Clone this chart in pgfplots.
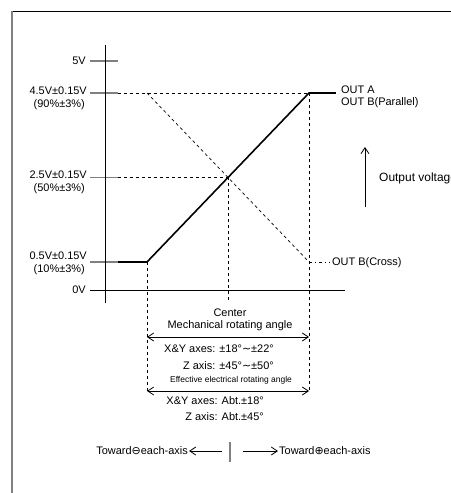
\documentclass[border=0pt]{standalone}
\usepackage{fontspec}
\setmainfont{Liberation Sans}
\newfontfamily\sym{DejaVu Sans}
\usepackage{pgfplots}
\pgfplotsset{compat=1.18}
\usetikzlibrary{arrows.meta}

% guide line styles
\tikzset{
  guide/.style={black, line width=0.7bp, dash pattern=on 3bp off 3bp},
  tck/.style={gray, line width=1.3bp},
  barb/.tip={Straight Barb[length=6bp,width=8bp,line width=0.8bp]},
}

\begin{document}
\begin{tikzpicture}[x=1bp,y=1bp,font=\fontsize{11}{13}\selectfont]
\useasboundingbox (0,0) rectangle (451,493);
% frame
\draw[black, line width=0.9bp] (12,482) -- (451,482);
\draw[gray, line width=1.4bp] (12,482) -- (12,0);

\begin{axis}[
  at={(0,0)}, anchor=south west,
  scale only axis, width=451bp, height=493bp,
  xmin=-2.815, xmax=2.753, ymin=-4.968, ymax=6.701,
  hide axis, clip=false,
]
% level ticks
\addplot[tck] coordinates {(-1.704,5.257) (-1.358,5.257)};
\addplot[tck] coordinates {(-1.704,4.5) (-1.358,4.5)};
\addplot[tck] coordinates {(-1.704,2.5) (-1.358,2.5)};
\addplot[tck] coordinates {(-1.704,0.5) (-1.358,0.5)};
% axes
\addplot[black, line width=0.9bp] coordinates {(-1.519,5.636) (-1.519,-0.471)};
\addplot[black, line width=0.9bp] coordinates {(-1.704,-0.163) (1.444,-0.163)};
% dashed guides
\addplot[guide] coordinates {(-1.358,4.5) (1,4.5)};
\addplot[guide] coordinates {(-1.358,2.5) (0,2.5)};
\addplot[guide] coordinates {(-1,0.5) (-1,-2.554)};
\addplot[guide] coordinates {(0,2.5) (0,-0.447)};
\addplot[guide] coordinates {(1,4.5) (1,-2.554)};
% OUT B (Cross)
\addplot[guide] coordinates {(-1,4.5) (1,0.5)};
\addplot[black, line width=0.7bp, dash pattern=on 3bp off 3bp on 1bp off 3bp] coordinates {(1,0.5) (1.259,0.5)};
% OUT A / OUT B (Parallel)
\addplot[black, line width=1.6bp] coordinates {(-1.358,0.5) (-1,0.5) (1,4.5) (1.333,4.5)};
% angle arrows
\addplot[black, line width=0.8bp, barb-barb] coordinates {(-1,-1.276) (1,-1.276)};
\addplot[black, line width=0.8bp, barb-barb] coordinates {(-1,-2.554) (1,-2.554)};
% output voltage arrow
\addplot[black, line width=0.8bp, -barb] coordinates {(1.691,1.801) (1.691,3.221)};
% direction marks
\addplot[gray, line width=1.3bp] coordinates {(0.025,-3.761) (0.025,-4.234)};
\addplot[black, line width=0.8bp, -barb] coordinates {(-0.074,-3.974) (-0.481,-3.974)};
\addplot[black, line width=0.8bp, -barb] coordinates {(0.185,-3.974) (0.617,-3.974)};
\end{axis}

\begin{scope}[every node/.style={inner sep=0pt}]
% level labels
\node[anchor=east] at (86,432) {5V};
\node[anchor=east] at (87,402) {4.5V±0.15V};
\node[anchor=east] at (85,388) {(90\%±3\%)};
\node[anchor=east] at (87,318) {2.5V±0.15V};
\node[anchor=east] at (85,304) {(50\%±3\%)};
\node[anchor=east] at (87,237) {0.5V±0.15V};
\node[anchor=east] at (85,223) {(10\%±3\%)};
\node[anchor=east] at (86,203) {0V};
% outputs
\node[anchor=west] at (341,403) {OUT A};
\node[anchor=west] at (341,390) {OUT B(Parallel)};
\node[anchor=west] at (332,230) {OUT B(Cross)};
\node[anchor=west, font=\fontsize{12}{14}\selectfont] at (379,315) {Output voltage};
% angles
\node at (230,180) {Center};
\node at (230,167) {Mechanical rotating angle};
\node[anchor=east] at (274,144) {X\&Y axes: ±18°{\sym ∼}±22°};
\node[anchor=east] at (274,127) {Z axis: ±45°{\sym ∼}±50°};
\node[font=\fontsize{8.5}{10}\selectfont] at (231,113) {Effective electrical rotating angle};
\node[anchor=east] at (264,92) {X\&Y axes: Abt.±18°};
\node[anchor=east] at (264,76) {Z axis: Abt.±45°};
% directions
\node[anchor=east] at (188,42) {Toward{\sym ⊖}each-axis};
\node[anchor=west] at (279,42) {Toward{\sym ⊕}each-axis};
\end{scope}
\end{tikzpicture}
\end{document}
